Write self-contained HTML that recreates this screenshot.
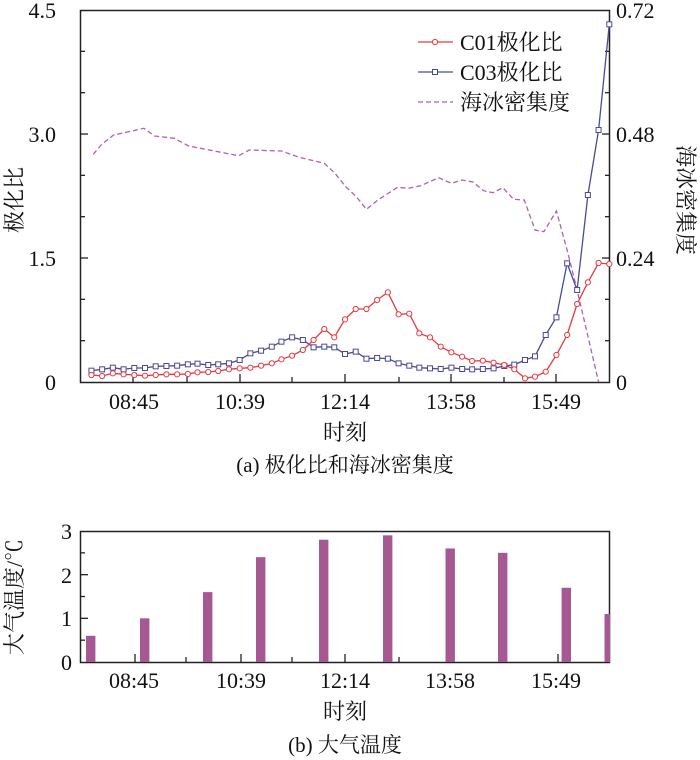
<!DOCTYPE html>
<html><head><meta charset="utf-8"><style>
body{margin:0;background:#fff}
svg{display:block}
text{font-family:"Liberation Serif","Noto Serif CJK SC",serif;fill:#111}
</style></head><body>
<svg id="s" width="700" height="760" xmlns="http://www.w3.org/2000/svg">
<rect x="80.5" y="10.5" width="529" height="372" fill="none" stroke="#222" stroke-width="1.5"/>
<g font-size="22">
<text x="56" y="18" text-anchor="end">4.5</text>
<text x="56" y="142" text-anchor="end">3.0</text>
<text x="56" y="266" text-anchor="end">1.5</text>
<text x="56" y="390" text-anchor="end">0</text>
<text x="616" y="18">0.72</text>
<text x="616" y="142">0.48</text>
<text x="616" y="266">0.24</text>
<text x="616" y="390">0</text>
<text x="134" y="409" text-anchor="middle">08:45</text>
<text x="240" y="409" text-anchor="middle">10:39</text>
<text x="345" y="409" text-anchor="middle">12:14</text>
<text x="451" y="409" text-anchor="middle">13:58</text>
<text x="556" y="409" text-anchor="middle">15:49</text>
<text x="345" y="440" text-anchor="middle">时刻</text>
<text x="345" y="472" text-anchor="middle" font-size="21">(a) 极化比和海冰密集度</text>
<text transform="translate(22,200) rotate(-90)" text-anchor="middle">极化比</text>
<text transform="translate(678,200) rotate(90)" text-anchor="middle">海冰密集度</text>
<text x="460" y="50">C01极化比</text>
<text x="460" y="80">C03极化比</text>
<text x="460" y="110">海冰密集度</text>
</g>
<line x1="418" y1="42" x2="453" y2="42" stroke="#e8393f" stroke-width="1.3"/>
<circle cx="435" cy="42" r="2.6" fill="#fff" stroke="#e8393f"/>
<line x1="418" y1="72" x2="453" y2="72" stroke="#4a4a9a" stroke-width="1.3"/>
<rect x="432.5" y="69.5" width="5" height="5" fill="#fff" stroke="#4a4a9a"/>
<line x1="418" y1="102" x2="453" y2="102" stroke="#b060b0" stroke-width="1.3" stroke-dasharray="5,3"/>

<rect x="80.5" y="531.5" width="529" height="131" fill="none" stroke="#222" stroke-width="1.5"/>
<g font-size="22">
<text x="72" y="539" text-anchor="end">3</text>
<text x="72" y="583" text-anchor="end">2</text>
<text x="72" y="626" text-anchor="end">1</text>
<text x="72" y="670" text-anchor="end">0</text>
<text x="134" y="688" text-anchor="middle">08:45</text>
<text x="241" y="688" text-anchor="middle">10:39</text>
<text x="345" y="688" text-anchor="middle">12:14</text>
<text x="450" y="688" text-anchor="middle">13:58</text>
<text x="556" y="688" text-anchor="middle">15:49</text>
<text x="345" y="719" text-anchor="middle">时刻</text>
<text x="345" y="752" text-anchor="middle" font-size="21">(b) 大气温度</text>
<text transform="translate(22,597) rotate(-90)" text-anchor="middle">大气温度/℃</text>
</g>
</svg>
<script>
var s=document.getElementById('s'),NS='http://www.w3.org/2000/svg';
function el(t,a){var e=document.createElementNS(NS,t);for(var k in a)e.setAttribute(k,a[k]);s.appendChild(e);return e;}
function cv(a){var r=[];for(var i=0;i<a.length;i+=2)r.push([a[i]/2.8+60,a[i+1]/3]);return r;}
[133,240,345,451,556].forEach(function(x){el('line',{x1:x,y1:382,x2:x,y2:374,stroke:'#222','stroke-width':1.3});});
[187,292,399,504].forEach(function(x){el('line',{x1:x,y1:382,x2:x,y2:377,stroke:'#222','stroke-width':1.3});});
for(var i=1;i<9;i++){var y=382-i*41.33,l=(i%3==0)?8:5;
el('line',{x1:80,y1:y,x2:80+l,y2:y,stroke:'#222','stroke-width':1.3});
el('line',{x1:610,y1:y,x2:610-l,y2:y,stroke:'#222','stroke-width':1.3});}
var c01=cv([88,1125,118,1128,148,1120,178,1123,208,1125,238,1127,268,1125,298,1123,328,1123,358,1122,385,1117,415,1116,443,1113,473,1108,503,1105,533,1103,563,1097,593,1090,620,1078,650,1067,680,1050,710,1020,740,987,768,1012,798,958,828,927,858,927,888,900,918,877,948,943,978,941,1006,1000,1036,1012,1066,1040,1096,1057,1126,1070,1154,1083,1184,1082,1214,1088,1244,1095,1272,1108,1302,1135,1330,1130,1360,1115,1390,1065,1420,1005,1448,912,1478,847,1508,789,1538,792]);
var c03=cv([88,1112,118,1108,148,1103,178,1108,208,1104,238,1104,268,1099,298,1098,328,1097,358,1093,385,1091,415,1095,443,1093,473,1090,503,1080,533,1060,563,1052,593,1040,620,1025,650,1012,680,1020,710,1042,740,1040,768,1042,798,1062,828,1055,858,1076,888,1074,918,1076,948,1090,978,1097,1006,1103,1036,1105,1066,1107,1096,1103,1126,1107,1154,1108,1184,1107,1214,1105,1244,1098,1272,1094,1302,1080,1330,1069,1360,1005,1390,952,1420,790,1448,870,1478,585,1508,390,1538,73]);
var ice=cv([93,463,118,432,150,405,180,398,235,385,265,408,320,415,360,438,500,467,530,450,620,453,670,472,740,490,770,520,800,560,830,590,858,628,890,600,945,562,975,565,1010,557,1060,533,1096,550,1126,540,1156,546,1186,572,1212,578,1240,563,1270,598,1300,600,1330,690,1355,695,1390,633,1420,750,1448,870,1508,1146]);
function pts(a){return a.map(function(p){return p[0].toFixed(1)+','+p[1].toFixed(1)}).join(' ');}
el('polyline',{points:pts(ice),fill:'none',stroke:'#b060b0','stroke-width':1.3,'stroke-dasharray':'5,3'});
el('polyline',{points:pts(c03),fill:'none',stroke:'#4a4a9a','stroke-width':1.3});
c03.forEach(function(p){el('rect',{x:p[0]-2.5,y:p[1]-2.5,width:5,height:5,fill:'#fff',stroke:'#4a4a9a','stroke-width':1});});
el('polyline',{points:pts(c01),fill:'none',stroke:'#e8393f','stroke-width':1.3});
c01.forEach(function(p){el('circle',{cx:p[0],cy:p[1],r:2.6,fill:'#fff',stroke:'#e8393f','stroke-width':1});});
[135,241,345,451,558].forEach(function(x){el('line',{x1:x,y1:662,x2:x,y2:654,stroke:'#222','stroke-width':1.3});});
[186,292,399,503].forEach(function(x){el('line',{x1:x,y1:662,x2:x,y2:657,stroke:'#222','stroke-width':1.3});});
for(var i=1;i<6;i++){var y=662-i*21.83;el('line',{x1:80,y1:y,x2:80+(i%2==0?8:5),y2:y,stroke:'#222','stroke-width':1.3});}
var bx=[86,140,203,256,319,383,445.5,498,561.6,604.5],bv=[0.6,1,1.6,2.4,2.8,2.9,2.6,2.5,1.7,1.1];
bx.forEach(function(x,i){var w=(i==9)?5.5:9.4,h=bv[i]*43.67;el('rect',{x:x,y:662-h,width:w,height:h,fill:'#a65893'});});
</script>
</body></html>
